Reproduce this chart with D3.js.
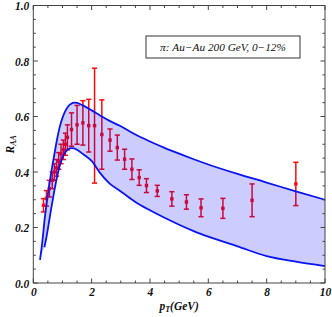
<!DOCTYPE html>
<html><head><meta charset="utf-8">
<script src="https://cdn.jsdelivr.net/npm/d3@7"></script>
<style>body{margin:0;background:#fff}svg{display:block}</style>
</head><body>
<script>
// Data
const ptData = [0.35,0.45,0.55,0.65,0.72,0.8,0.87,0.95,1.03,1.1,1.17,1.31,1.5,1.7,1.9,2.1,2.35,2.63,2.88,3.13,3.38,3.63,3.88,4.25,4.75,5.25,5.75,6.5,7.5,9.0];
const raaData = [0.28,0.305,0.34,0.37,0.40,0.415,0.44,0.465,0.48,0.50,0.525,0.553,0.57,0.577,0.567,0.567,0.535,0.515,0.488,0.446,0.41,0.38,0.351,0.332,0.303,0.292,0.271,0.269,0.298,0.357];
const errData = [0.024,0.028,0.03,0.03,0.03,0.03,0.03,0.035,0.035,0.04,0.045,0.06,0.07,0.08,0.095,0.207,0.125,0.04,0.045,0.036,0.037,0.028,0.025,0.02,0.026,0.026,0.032,0.036,0.059,0.078];

const upperX = [0.23,0.3,0.4,0.5,0.6,0.7,0.8,0.9,1.0,1.1,1.2,1.3,1.4,1.5,1.7,2.0,2.3,2.6,3.0,3.5,4.0,4.5,5.0,5.5,6.0,7.0,8.0,9.0,10.0];
const upperY = [0.083,0.14,0.24,0.32,0.39,0.45,0.51,0.56,0.595,0.62,0.637,0.646,0.65,0.649,0.64,0.622,0.603,0.585,0.565,0.535,0.51,0.487,0.466,0.446,0.427,0.393,0.362,0.33,0.30];
const lowerX = [0.38,0.45,0.5,0.6,0.7,0.8,0.9,1.0,1.1,1.2,1.3,1.4,1.5,1.7,2.0,2.3,2.6,3.0,3.5,4.0,4.5,5.0,5.5,6.0,7.0,8.0,9.0,10.0];
const lowerY = [0.129,0.165,0.195,0.26,0.32,0.375,0.42,0.452,0.472,0.482,0.486,0.485,0.48,0.465,0.44,0.395,0.36,0.33,0.292,0.262,0.235,0.21,0.187,0.167,0.132,0.097,0.077,0.061];

const xMajor = [0,2,4,6,8,10];
const yMajor = [0,0.2,0.4,0.6,0.8,1.0];
const legendText = "π: Au−Au 200 GeV, 0−12%";

const W = 332, H = 317;
const m = {l:33.3, r:7, t:5.5, b:34};
const svg = d3.select("body").append("svg").attr("width",W).attr("height",H);
const x = d3.scaleLinear().domain([0,10]).range([m.l, W-m.r]);
const y = d3.scaleLinear().domain([0,1]).range([H-m.b, m.t]);

const g = svg.append("g");

// error bars (red) drawn under the band
const pts = ptData.map((p,i)=>({x:p,y:raaData[i],e:errData[i]}));
const eb = g.append("g");
const red = "#ff0a0a";
pts.forEach(d=>{
  eb.append("line").attr("x1",x(d.x)).attr("x2",x(d.x)).attr("y1",y(d.y-d.e)).attr("y2",y(d.y+d.e))
    .attr("stroke",red).attr("stroke-width",1.5);
  [d.y-d.e,d.y+d.e].forEach(v=>eb.append("line").attr("x1",x(d.x)-2.6).attr("x2",x(d.x)+2.6)
    .attr("y1",y(v)).attr("y2",y(v)).attr("stroke",red).attr("stroke-width",1.5));
  eb.append("rect").attr("x",x(d.x)-1.7).attr("y",y(d.y)-1.7).attr("width",3.4).attr("height",3.4).attr("fill",red);
});

// band
const upper = upperX.map((v,i)=>[v,upperY[i]]);
const lower = lowerX.map((v,i)=>[v,lowerY[i]]);
const curve = d3.curveMonotoneX;
const lineGen = d3.line().x(d=>x(d[0])).y(d=>y(d[1])).curve(curve);
const upPath = lineGen(upper);
const lowPath = lineGen(lower);
function sample(arr, n){
  const tmp = svg.append("path").attr("d", lineGen(arr)).attr("fill","none");
  const node = tmp.node(), L = node.getTotalLength(), out=[];
  for(let i=0;i<=n;i++){const p=node.getPointAtLength(L*i/n); out.push([p.x,p.y]);}
  tmp.remove(); return out;
}
const upS = sample(upper,400), loS = sample(lower,400).reverse();
g.append("path").attr("d", d3.line()(upS.concat(loS))+"Z")
  .attr("fill","#0000ff").attr("fill-opacity",0.2).attr("stroke","none");
g.append("path").attr("d",upPath).attr("fill","none").attr("stroke","#0a14f0").attr("stroke-width",1.8);
g.append("path").attr("d",lowPath).attr("fill","none").attr("stroke","#0a14f0").attr("stroke-width",1.8);

// frame
const fr = svg.append("g").attr("stroke","#444").attr("stroke-width",1);
fr.append("rect").attr("x",x(0)).attr("y",y(1)).attr("width",x(10)-x(0)).attr("height",y(0)-y(1)).attr("fill","none");
const xTicks = d3.range(0,10.01,0.5);
xTicks.forEach(t=>{
  const major = Math.abs(t/2-Math.round(t/2))<1e-6;
  const len = major?4.5:2.5;
  fr.append("line").attr("x1",x(t)).attr("x2",x(t)).attr("y1",y(0)).attr("y2",y(0)-len);
  fr.append("line").attr("x1",x(t)).attr("x2",x(t)).attr("y1",y(1)).attr("y2",y(1)+len);
});
const yTicks = d3.range(0,1.001,0.05);
yTicks.forEach(t=>{
  const major = Math.abs(t/0.2-Math.round(t/0.2))<1e-6;
  const len = major?4.5:2.5;
  fr.append("line").attr("y1",y(t)).attr("y2",y(t)).attr("x1",x(0)).attr("x2",x(0)+len);
  fr.append("line").attr("y1",y(t)).attr("y2",y(t)).attr("x1",x(10)).attr("x2",x(10)-len);
});

// tick labels via axes
const font = "'Liberation Serif','Times New Roman',serif";
const xa = svg.append("g").attr("transform",`translate(0,${y(0)})`)
  .call(d3.axisBottom(x).tickValues(xMajor).tickSize(0).tickPadding(5).tickFormat(d3.format("d")));
const ya = svg.append("g").attr("transform",`translate(${x(0)},0)`)
  .call(d3.axisLeft(y).tickValues(yMajor).tickSize(0).tickPadding(4).tickFormat(d3.format(".1f")));
[xa,ya].forEach(a=>{
  a.select(".domain").remove();
  a.selectAll("text").attr("font-family",font).attr("font-size",11.5).attr("font-weight","bold")
    .attr("font-style","italic").attr("fill","#111");
});
ya.selectAll("text").attr("dy","0.35em");

// axis labels
const xl = svg.append("text").attr("x",x(5)).attr("y",310).attr("text-anchor","middle")
  .attr("font-family",font).attr("font-size",11.5).attr("font-style","italic").attr("font-weight","bold").attr("fill","#111");
xl.append("tspan").text("p");
xl.append("tspan").text("T").attr("font-size",8).attr("dy",2);
xl.append("tspan").text("(GeV)").attr("dy",-2);

const yl = svg.append("text").attr("transform",`translate(14,${y(0.5)}) rotate(-90)`).attr("text-anchor","middle")
  .attr("font-family",font).attr("font-size",11.5).attr("font-style","italic").attr("font-weight","bold").attr("fill","#111");
yl.append("tspan").text("R");
yl.append("tspan").text("AA").attr("font-size",8).attr("dy",2);

// legend box
svg.append("rect").attr("x",146).attr("y",36).attr("width",154).attr("height",22)
  .attr("fill","#fff").attr("stroke","#333").attr("stroke-width",1);
svg.append("text").attr("x",223).attr("y",51).attr("text-anchor","middle")
  .attr("font-family",font).attr("font-size",11.3).attr("font-style","italic").attr("fill","#111").text(legendText);
</script>
</body></html>
